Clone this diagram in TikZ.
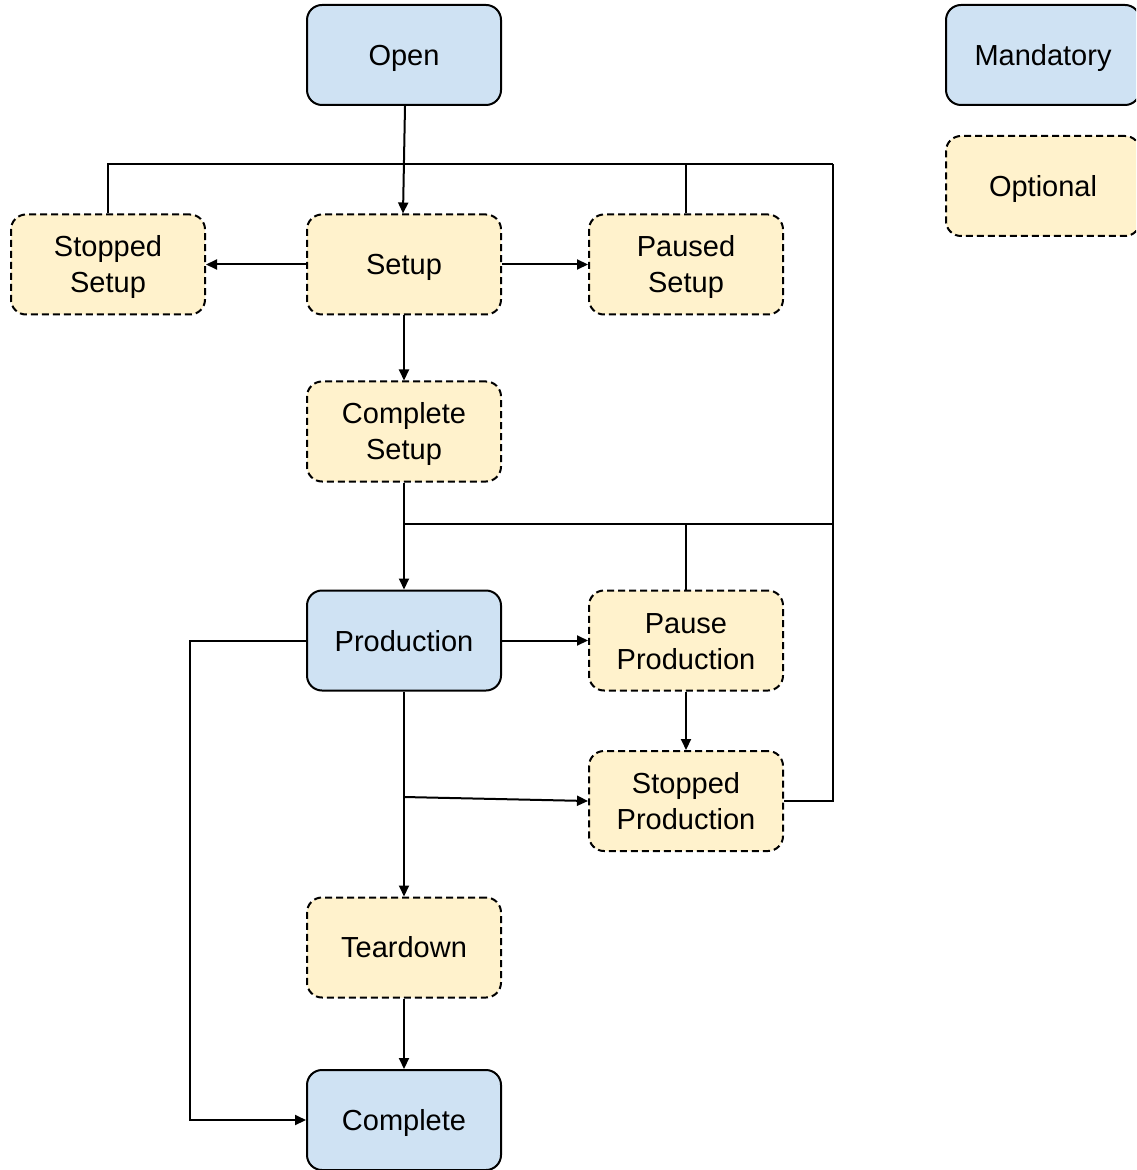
\documentclass[tikz,border=0pt]{standalone}
\usepackage{fontspec}
\setmainfont{Liberation Sans}
\usetikzlibrary{arrows.meta}
\definecolor{mandfill}{HTML}{CFE2F3}
\definecolor{optfill}{HTML}{FFF2CC}
\newcommand\dn[1]{\raisebox{-1.5pt}[\height][\depth]{#1}}
\begin{document}
\begin{tikzpicture}[x=0.5pt,y=-0.5pt,
  box/.style={draw=black, line width=1pt, rounded corners=7.5pt, minimum width=97pt, minimum height=50pt,
    inner sep=0pt, align=center, font=\fontsize{14.5}{18}\selectfont},
  mand/.style={box, fill=mandfill},
  opt/.style={box, fill=optfill, dash pattern=on 3.5pt off 2pt},
  conn/.style={line width=1pt, draw=black},
  arr/.style={conn, -{Triangle[length=5.5pt,width=5pt]}}]
\useasboundingbox (0,0) rectangle (1136,1170);
\begin{scope}
\clip (0,0) rectangle (1136,1170);
\node[mand] (open) at (404,55) {\dn{Open}};
\node[opt] (setup) at (404,264.5) {\dn{Setup}};
\node[opt] (ssetup) at (108,264.5) {\dn{Stopped}\\\dn{Setup}};
\node[opt] (psetup) at (686,264.5) {\dn{Paused}\\\dn{Setup}};
\node[opt] (csetup) at (404,431.5) {\dn{Complete}\\\dn{Setup}};
\node[mand] (prod) at (404,640.5) {\raisebox{-0.5pt}[\height][\depth]{Production}};
\node[opt] (pprod) at (686,640.5) {\raisebox{-0.5pt}[\height][\depth]{Pause}\\\raisebox{-0.5pt}[\height][\depth]{Production}};
\node[opt] (sprod) at (686,801) {Stopped\\Production};
\node[opt] (teardown) at (404,947.5) {Teardown};
\node[mand] (complete) at (404,1120) {\dn{Complete}};
\node[mand] (lmand) at (1043,55) {\dn{Mandatory}};
\node[opt] (lopt) at (1043,186) {\dn{Optional}};

\coordinate (jtr) at (833,164);
\coordinate (jmr) at (833,524);
\coordinate (jml) at (404,524);
\coordinate (lft) at (190,640.5);
\coordinate (mid) at (404,797);

\draw[arr] ([xshift=0.5pt]open.south) -- ([xshift=-0.5pt]setup.north);
\draw[conn] (ssetup.north) |- (jtr);
\draw[conn] (psetup.north) -- (psetup.north |- jtr);
\draw[conn] (sprod.east) -| (jtr);
\draw[conn] (jml) -- (jmr);
\draw[conn] (pprod.north) -- (pprod.north |- jmr);
\draw[arr] (setup) -- (ssetup);
\draw[arr] (setup) -- (psetup);
\draw[arr] (setup) -- (csetup);
\draw[arr] (csetup) -- (prod);
\draw[arr] (prod) -- (pprod);
\draw[arr] (pprod) -- (sprod);
\draw[arr] (prod) -- (teardown);
\draw[arr] (mid) -- (sprod.west);
\draw[arr] (teardown) -- (complete);
\draw[arr] (prod.west) -- (lft) |- (complete.west);
\end{scope}
\end{tikzpicture}
\end{document}
